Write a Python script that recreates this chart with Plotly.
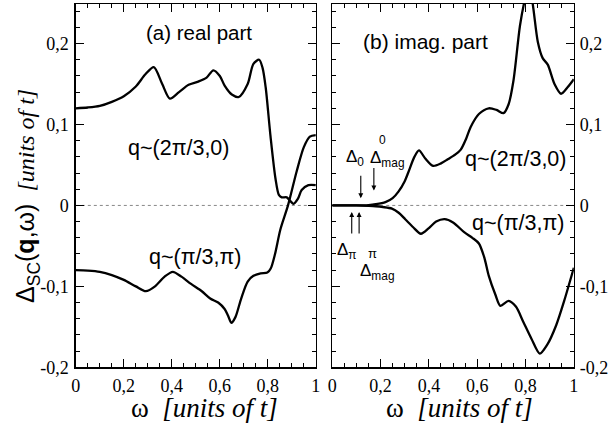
import plotly.graph_objects as go

W, H = 611, 432

# ---- data ----
re_q1_x = [0, 0.05, 0.1, 0.15, 0.2, 0.25, 0.29, 0.325, 0.36, 0.392, 0.43, 0.47, 0.51, 0.545,
           0.573, 0.6, 0.62, 0.65, 0.679, 0.716, 0.74, 0.764, 0.778, 0.791, 0.811, 0.832, 0.846,
           0.858, 0.879, 0.895, 0.907, 0.925, 0.941, 0.969, 1.0]
re_q1_y = [0.120, 0.121, 0.123, 0.128, 0.135, 0.147, 0.162, 0.171, 0.150, 0.132, 0.140, 0.149,
           0.153, 0.158, 0.167, 0.160, 0.148, 0.137, 0.134, 0.150, 0.175, 0.180, 0.170, 0.146,
           0.086, 0.033, 0.013, 0.010, 0.010, 0.005, 0.002, 0.008, 0.019, 0.025, 0.025]

re_q2_x = [0, 0.05, 0.1, 0.15, 0.2, 0.25, 0.292, 0.33, 0.37, 0.404, 0.44, 0.48, 0.525, 0.56,
           0.593, 0.62, 0.634, 0.648, 0.665, 0.689, 0.716, 0.74, 0.77, 0.798, 0.812, 0.83,
           0.852, 0.884, 0.92, 0.95, 0.975, 1.0]
re_q2_y = [-0.080, -0.0805, -0.082, -0.086, -0.092, -0.100, -0.106, -0.100, -0.088, -0.082,
           -0.088, -0.097, -0.106, -0.115, -0.120, -0.128, -0.136, -0.145, -0.138, -0.115,
           -0.094, -0.087, -0.084, -0.083, -0.078, -0.060, -0.030, 0.0, 0.042, 0.072, 0.085, 0.087]

im_q1_x = [0, 0.05, 0.1, 0.15, 0.18, 0.22, 0.25, 0.274, 0.3, 0.315, 0.34, 0.359, 0.385, 0.417,
           0.45, 0.478, 0.51, 0.532, 0.555, 0.573, 0.607, 0.648, 0.68, 0.709, 0.73, 0.75, 0.777,
           0.797, 0.812, 0.827, 0.851, 0.871, 0.892, 0.92, 0.947, 0.974, 1.0]
im_q1_y = [0, 0, 0, 0.0005, 0.0015, 0.004, 0.009, 0.017, 0.030, 0.041, 0.060, 0.068, 0.058,
           0.049, 0.052, 0.057, 0.063, 0.069, 0.083, 0.097, 0.113, 0.120, 0.118, 0.114, 0.125,
           0.154, 0.222, 0.254, 0.270, 0.254, 0.202, 0.182, 0.174, 0.150, 0.138, 0.146, 0.156]

im_q2_x = [0, 0.05, 0.1, 0.15, 0.18, 0.21, 0.247, 0.275, 0.302, 0.335, 0.367, 0.4, 0.43, 0.465,
           0.5, 0.546, 0.58, 0.607, 0.63, 0.648, 0.675, 0.696, 0.73, 0.76, 0.791, 0.825, 0.859,
           0.89, 0.927, 0.96, 1.0]
im_q2_y = [0, 0, 0, -0.0005, -0.001, -0.002, -0.004, -0.009, -0.017, -0.027, -0.035, -0.028,
           -0.020, -0.017, -0.021, -0.033, -0.040, -0.047, -0.065, -0.087, -0.110, -0.124,
           -0.118, -0.125, -0.144, -0.165, -0.183, -0.172, -0.148, -0.118, -0.077]

x_tickvals = [0, 0.2, 0.4, 0.6, 0.8, 1.0]
x_ticktext = ["0", "0,2", "0,4", "0,6", "0,8", "1"]
y_tickvals = [-0.2, -0.1, 0, 0.1, 0.2]
y_ticktext = ["-0,2", "-0,1", "0", "0,1", "0,2"]

SERIF = "Liberation Serif"
SANS = "Liberation Sans"

fig = go.Figure()
line = dict(color="black", width=2.3, shape="spline", smoothing=0.8)
fig.add_trace(go.Scatter(x=re_q1_x, y=re_q1_y, mode="lines", line=line, xaxis="x", yaxis="y"))
fig.add_trace(go.Scatter(x=re_q2_x, y=re_q2_y, mode="lines", line=line, xaxis="x", yaxis="y"))
fig.add_trace(go.Scatter(x=im_q1_x, y=im_q1_y, mode="lines", line=line, xaxis="x2", yaxis="y2"))
fig.add_trace(go.Scatter(x=im_q2_x, y=im_q2_y, mode="lines", line=line, xaxis="x2", yaxis="y2"))

def xax(domain, anchor):
    return dict(domain=domain, range=[0, 1], tickvals=x_tickvals, ticktext=x_ticktext, anchor=anchor,
                ticks="inside", ticklen=8, tickwidth=1.2, tickcolor="black",
                minor=dict(dtick=0.05, tick0=0, ticks="inside", ticklen=4, tickwidth=1, tickcolor="black"),
                showline=True, linecolor="black", linewidth=1.4, mirror="ticks",
                showgrid=False, zeroline=False, ticklabelstandoff=2,
                tickfont=dict(family=SERIF, size=18, color="black"), fixedrange=True)

def yax(side, anchor, standoff):
    return dict(domain=[1 - 376 / H, 1 - 4 / H], range=[-0.2, 0.249], tickvals=y_tickvals,
                ticktext=y_ticktext, side=side, anchor=anchor,
                ticks="inside", ticklen=8, tickwidth=1.2, tickcolor="black",
                minor=dict(dtick=0.02, tick0=0, ticks="inside", ticklen=4, tickwidth=1, tickcolor="black"),
                showline=True, linecolor="black", linewidth=1.4, mirror="ticks",
                showgrid=False, zeroline=False, ticklabelstandoff=standoff,
                tickfont=dict(family=SERIF, size=18, color="black"), fixedrange=True)

fig.update_layout(
    width=W, height=H, margin=dict(l=0, r=0, t=0, b=0),
    paper_bgcolor="white", plot_bgcolor="white", showlegend=False,
    font=dict(family=SERIF, color="black"),
    xaxis=xax([72 / W, 316 / W], "y"),
    xaxis2=xax([332.7 / W, 578.3 / W], "y2"),
    yaxis=yax("left", "x", 2),
    yaxis2=yax("right", "x2", 1),
)

# dotted zero lines
for xr, yr in (("x domain", "y"), ("x2 domain", "y2")):
    fig.add_shape(type="line", xref=xr, x0=0, x1=1, yref=yr, y0=0, y1=0,
                  line=dict(color="#888888", width=1, dash="dot"), layer="below")

def P(px, py):
    return px / W, 1 - py / H

def text(px, py, s, size=21, family=SANS, xanchor="center", yanchor="middle", angle=0):
    x, y = P(px, py)
    fig.add_annotation(x=x, y=y, xref="paper", yref="paper", text=s, showarrow=False,
                       font=dict(family=family, size=size, color="black"),
                       xanchor=xanchor, yanchor=yanchor, textangle=angle)

def arrow(px, py, ay):
    x, y = P(px, py)
    fig.add_annotation(x=x, y=y, xref="paper", yref="paper", text="", showarrow=True,
                       ax=0, ay=ay, arrowhead=2, arrowsize=0.9, arrowwidth=1.1, arrowcolor="black")

text(197, 33, "(a) real part", size=20.5)
text(177, 152, "q~(2π/3,0)", size=21.5)
text(193, 263, "q~(π/3,π)", size=21.5)
text(428, 42, "(b) imag. part", size=21)
text(519, 163, "q~(2π/3,0)", size=21.5)
text(522, 228, "q~(π/3,π)", size=21.5)

text(356, 162, "Δ<sub>0</sub>", size=17)
text(369, 163, "Δ<sub>mag</sub>", size=17, xanchor="left")
text(384, 143, "0", size=12)
text(348, 257, "Δ<sub>π</sub>", size=17)
text(359, 278, "Δ<sub>mag</sub>", size=17, xanchor="left")
text(374, 259, "π", size=13)

arrow(361.7, 203, -24)
arrow(375, 195, -24)
arrow(352.5, 217, 23)
arrow(360, 217, 23)

xt = "ω\u00a0\u00a0<i>[units of t]</i>"
text(203, 418, xt, size=27, family=SERIF)
text(462, 418, xt, size=27, family=SERIF)
yt = ('<span style="font-family:Liberation Sans;font-size:25px">Δ<sub>SC</sub>(<b>q</b>,ω)</span>'
      '\u00a0\u00a0<i>[units of t]</i>')
text(23, 201, yt, size=24, family=SERIF, angle=-90)

fig.write_html("out.html",
               config={"displayModeBar": False, "staticPlot": True},
               post_script="document.body.style.margin='0px';document.body.style.overflow='hidden';")
